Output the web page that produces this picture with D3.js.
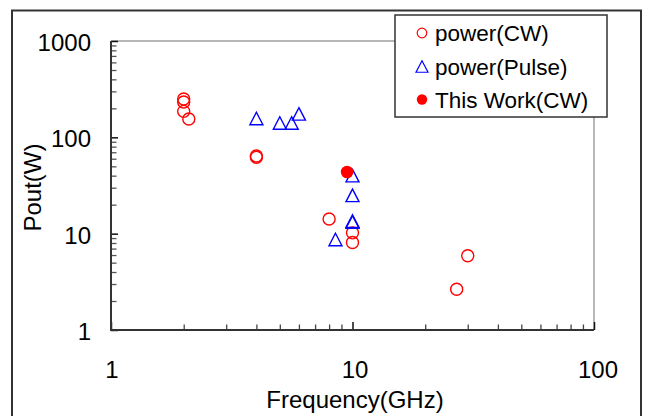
<!DOCTYPE html>
<html>
<head>
<meta charset="utf-8">
<script src="https://cdn.jsdelivr.net/npm/d3@7"></script>
<style>
  html, body { margin: 0; padding: 0; background: #fff; }
  svg { display: block; font-family: "Liberation Sans", Arial, sans-serif; }
</style>
</head>
<body>
<svg id="chart" width="647" height="416"></svg>
<script>
// ---- data ----
const cwFreq = [2, 2, 2, 2.1, 4, 4, 8, 10, 10, 27, 30];
const cwPower = [250, 233, 186, 155, 62, 64, 14.2, 10.2, 8.1, 2.65, 5.9];
const pulseFreq = [4, 5, 5.6, 6, 8.5, 10, 10, 10, 10];
const pulsePower = [157, 141, 141, 175, 8.7, 40, 25, 13.2, 13.5];
const thisFreq = [9.5];
const thisPower = [43.6];
const xTicks = [1, 10, 100];
const yTicks = [1, 10, 100, 1000];
const legendLabels = ["power(CW)", "power(Pulse)", "This Work(CW)"];
const xTitle = "Frequency(GHz)";
const yTitle = "Pout(W)";

const svg = d3.select("#chart");
const L = 111, R = 594, T = 41, B = 330;
const x = d3.scaleLog().domain([1, 100]).range([L, R]);
const y = d3.scaleLog().domain([1, 1000]).range([B, T]);
const xLab = d3.scaleLog().domain([1, 100]).range([L + 1, R + 4]);

// outer frame
svg.append("rect").attr("x", 12).attr("y", 10.5).attr("width", 629).attr("height", 420)
  .attr("fill", "#fff").attr("stroke", "#333").attr("stroke-width", 2);

// top and right plot border (gray)
svg.append("path").attr("d", `M${L},${T}H${R}V${B}`).attr("fill", "none")
  .attr("stroke", "#a0a0a0").attr("stroke-width", 1.5);

// minor ticks
const minorX = [];
for (let d = 1; d < 100; d *= 10) for (let k = 2; k <= 9; k++) minorX.push(d * k);
const minorY = [];
for (let d = 1; d < 1000; d *= 10) for (let k = 2; k <= 9; k++) minorY.push(d * k);

// x axis (ticks inward)
const gx = svg.append("g").attr("transform", `translate(0,${B})`)
  .call(d3.axisBottom(x).tickValues(minorX).tickSize(-5.5).tickFormat(""));
gx.select(".domain").remove();
gx.selectAll("line").attr("stroke", "#444").attr("stroke-width", 1.3);
const gx2 = svg.append("g").attr("transform", `translate(0,${B})`)
  .call(d3.axisBottom(x).tickValues(xTicks).tickSize(-8).tickFormat(""));
gx2.select(".domain").remove();
gx2.selectAll("line").attr("stroke", "#111").attr("stroke-width", 1.5);

// y axis (ticks inward)
const gy = svg.append("g").attr("transform", `translate(${L},0)`)
  .call(d3.axisLeft(y).tickValues(minorY).tickSize(-5.5).tickFormat(""));
gy.select(".domain").remove();
gy.selectAll("line").attr("stroke", "#555").attr("stroke-width", 1.3);
const gy2 = svg.append("g").attr("transform", `translate(${L},0)`)
  .call(d3.axisLeft(y).tickValues(yTicks).tickSize(-7).tickFormat(""));
gy2.select(".domain").remove();
gy2.selectAll("line").attr("stroke", "#111").attr("stroke-width", 1.5);

// axis lines (left and bottom, dark)
svg.append("path").attr("d", `M${L},${T}V${B}H${R}`).attr("fill", "none")
  .attr("stroke", "#333").attr("stroke-width", 2);

// tick labels
svg.append("g").selectAll("text").data(xTicks).join("text")
  .attr("x", d => xLab(d)).attr("y", 378).attr("text-anchor", "middle")
  .attr("font-size", 24).attr("fill", "#000").text(d => d);
svg.append("g").selectAll("text").data(yTicks).join("text")
  .attr("x", 91).attr("y", d => y(d) + 10).attr("text-anchor", "end")
  .attr("font-size", 24).attr("fill", "#000").text(d => d);

// titles
svg.append("text").attr("x", 355).attr("y", 408).attr("text-anchor", "middle")
  .attr("font-size", 24).attr("fill", "#000").text(xTitle);
svg.append("text").attr("transform", "translate(41,187.5) rotate(-90)")
  .attr("text-anchor", "middle").attr("font-size", 24).attr("fill", "#000").text(yTitle);

// marker helpers
const triPath = (w, h) => `M0,${-h/2}L${w/2},${h/2}L${-w/2},${h/2}Z`;

const cw = cwFreq.map((f, i) => ({f, p: cwPower[i]}));
const pulse = pulseFreq.map((f, i) => ({f, p: pulsePower[i]}));
const mine = thisFreq.map((f, i) => ({f, p: thisPower[i]}));

svg.append("g").selectAll("circle").data(cw).join("circle")
  .attr("cx", d => x(d.f)).attr("cy", d => y(d.p)).attr("r", 6)
  .attr("fill", "none").attr("stroke", "#ff0000").attr("stroke-width", 1.4);
svg.append("g").selectAll("path").data(pulse).join("path")
  .attr("transform", d => `translate(${x(d.f)},${y(d.p)})`)
  .attr("d", triPath(13, 12.5))
  .attr("fill", "none").attr("stroke", "#0000ff").attr("stroke-width", 1.4);
svg.append("g").selectAll("circle").data(mine).join("circle")
  .attr("cx", d => x(d.f)).attr("cy", d => y(d.p)).attr("r", 6.3)
  .attr("fill", "#ff0000");

// legend
const lg = svg.append("g");
lg.append("rect").attr("x", 395).attr("y", 15).attr("width", 212).attr("height", 102)
  .attr("fill", "#fff").attr("stroke", "#333").attr("stroke-width", 1.5);
const rowsY = [33, 66.5, 99.5];
lg.append("circle").attr("cx", 422).attr("cy", rowsY[0]).attr("r", 4.8)
  .attr("fill", "none").attr("stroke", "#ff0000").attr("stroke-width", 1.2);
lg.append("path").attr("transform", `translate(422,${rowsY[1]})`).attr("d", triPath(12, 11.5))
  .attr("fill", "none").attr("stroke", "#0000ff").attr("stroke-width", 1.2);
lg.append("circle").attr("cx", 422).attr("cy", rowsY[2]).attr("r", 5.2).attr("fill", "#ff0000");
lg.selectAll("text").data(legendLabels).join("text")
  .attr("x", 435).attr("y", (d, i) => rowsY[i] + 8)
  .attr("font-size", 22.5).attr("fill", "#000").text(d => d);
</script>
</body>
</html>
